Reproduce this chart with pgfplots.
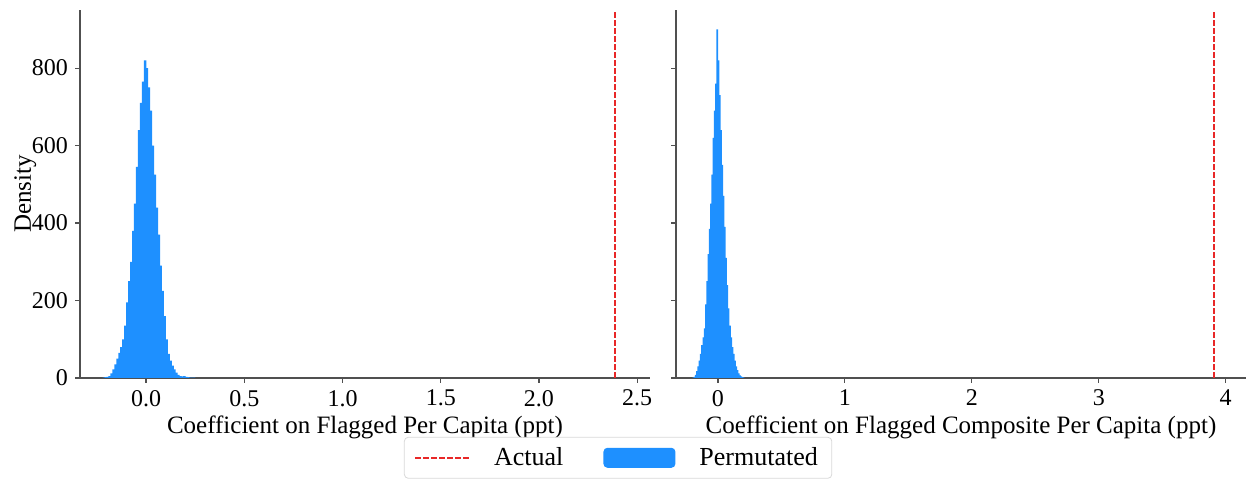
\documentclass[border=0pt]{standalone}
\usepackage{fontspec}
\setmainfont{Liberation Serif}
\usepackage{pgfplots}
\pgfplotsset{compat=1.18}
\definecolor{permblue}{RGB}{30,144,255}
\definecolor{actred}{RGB}{232,40,40}
\definecolor{spine}{RGB}{80,80,80}

\pgfplotsset{
  histax/.style={
    scale only axis, width=285pt, height=184pt,
    axis x line*=bottom, axis y line*=left,
    axis line style={spine, line width=0.6pt},
    tick style={spine, line width=0.6pt},
    tick align=outside, major tick length=2.5pt,
    ymin=0, ymax=950, ytick={0,200,400,600,800},
    font=\fontsize{12}{14}\selectfont,
    tick label style={font=\fontsize{12}{14}\selectfont},
    /pgf/number format/assume math mode=true,
    xlabel style={font=\fontsize{12.5}{15}\selectfont, yshift=2pt},
    ylabel style={font=\fontsize{12.5}{15}\selectfont},
  },
  histfill/.style={ybar, bar width=0.0125, bar shift=0pt, fill=permblue, draw=none},
  lineleg/.style={legend image code/.code={\draw[##1] (0pt,0pt) -- (27pt,0pt);}},
  patchleg/.style={legend image code/.code={\fill[##1] (0pt,-5pt) rectangle (36pt,5pt);}},
}

\begin{document}
\begin{tikzpicture}
\path[use as bounding box] (0,0) rectangle (623.5pt,242.5pt);

% left panel
\begin{axis}[histax, at={(40pt,53.5pt)}, anchor=south west,
  xmin=-0.336, xmax=2.565,
  xtick={0,0.5,1,1.5,2,2.5},
  xticklabel style={/pgf/number format/.cd, fixed, fixed zerofill, precision=1},
  xlabel={Coefficient on Flagged Per Capita (ppt)},
  ylabel={Density}, ylabel shift=-9pt,
  legend columns=2,
  legend style={at={(0.944,-0.160)}, anchor=north, draw=black!15, rounded corners=2pt,
    font=\fontsize{13}{15}\selectfont, inner xsep=5pt, inner ysep=3pt,
    /tikz/every odd column/.append style={column sep=10pt},
    /tikz/every even column/.append style={column sep=18pt}},
]
\addlegendimage{lineleg, actred, dash pattern=on 2.8pt off 1.2pt, line width=0.9pt}
\addlegendentry{Actual}
\addlegendimage{patchleg, fill=permblue, draw=none}
\addlegendentry{Permutated}

% bin centres, bin width 0.01
\addplot[histfill, forget plot] coordinates {
(-0.215,1) (-0.205,2) (-0.195,3) (-0.185,5) (-0.175,12) (-0.165,22) (-0.155,35) (-0.145,50)
(-0.135,65) (-0.125,80) (-0.115,100) (-0.105,135) (-0.095,195) (-0.085,250) (-0.075,300)
(-0.065,380) (-0.055,450) (-0.045,545) (-0.035,640) (-0.025,710) (-0.015,765) (-0.005,820)
(0.005,800) (0.015,750) (0.025,690) (0.035,600) (0.045,525) (0.055,440) (0.065,370)
(0.075,290) (0.085,225) (0.095,160) (0.105,100) (0.115,62) (0.125,45) (0.135,32) (0.145,22)
(0.155,14) (0.165,8) (0.175,5) (0.185,4) (0.195,5) (0.205,3) (0.215,2) (0.225,1) (0.235,1)
(0.245,1)
};
\addplot[actred, dash pattern=on 2.8pt off 1.2pt, line width=0.9pt, forget plot]
  coordinates {(2.387,0) (2.387,950)};
\end{axis}

% right panel
\begin{axis}[histax, at={(338pt,53.5pt)}, anchor=south west,
  xmin=-0.33, xmax=4.16,
  xtick={0,1,2,3,4},
  yticklabels={},
  xlabel={Coefficient on Flagged Composite Per Capita (ppt)},
]
\addplot[histfill] coordinates {
(-0.195,1) (-0.185,3) (-0.175,8) (-0.165,18) (-0.155,30) (-0.145,45) (-0.135,62) (-0.125,85)
(-0.115,105) (-0.105,128) (-0.095,190) (-0.085,250) (-0.075,320) (-0.065,385) (-0.055,450)
(-0.045,525) (-0.035,620) (-0.025,690) (-0.015,760) (-0.005,900) (0.005,820) (0.015,730)
(0.025,640) (0.035,550) (0.045,470) (0.055,390) (0.065,310) (0.075,240) (0.085,180)
(0.095,135) (0.105,105) (0.115,80) (0.125,62) (0.135,45) (0.145,30) (0.155,20) (0.165,12)
(0.175,7) (0.185,4) (0.195,2) (0.205,1)
};
\addplot[actred, dash pattern=on 2.8pt off 1.2pt, line width=0.9pt]
  coordinates {(3.91,0) (3.91,950)};
\end{axis}
\end{tikzpicture}
\end{document}
